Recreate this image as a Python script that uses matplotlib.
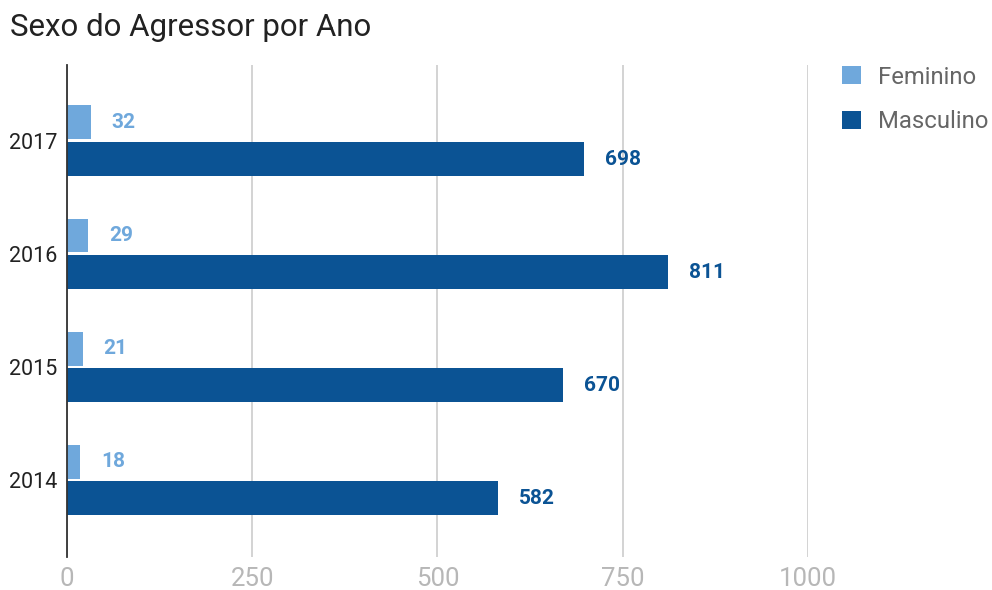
import matplotlib
matplotlib.use("Agg")
import matplotlib.pyplot as plt
import numpy as np

plt.rcParams["font.family"] = ["Roboto", "DejaVu Sans"]

years = ["2014", "2015", "2016", "2017"]
feminino = [18, 21, 29, 32]
masculino = [582, 670, 811, 698]
series_names = ["Feminino", "Masculino"]
colors = ["#6fa8dc", "#0b5394"]
xticks = [0, 250, 500, 750, 1000]

fig = plt.figure(figsize=(9.92, 5.9), dpi=100)
ax = fig.add_axes([0.0675, 0.056, 0.747, 0.834])

y = np.arange(len(years))
h = 0.30
off = 0.162
b1 = ax.barh(y + off, feminino, height=h, color=colors[0], label=series_names[0], zorder=3)
b2 = ax.barh(y - off, masculino, height=h, color=colors[1], label=series_names[1], zorder=3)

for bars, vals, c in [(b1, feminino, colors[0]), (b2, masculino, colors[1])]:
    for bar, v in zip(bars, vals):
        ax.annotate(str(v), (v, bar.get_y() + bar.get_height() / 2),
                    xytext=(15, 0), textcoords="offset points",
                    va="center", ha="left", fontsize=15, fontweight="bold", color=c)

ax.set_xlim(0, 1000)
ax.set_ylim(-0.68, 3.67)
ax.set_xticks(xticks)
ax.set_xticklabels([str(t) for t in xticks])
ax.set_yticks(y)
ax.set_yticklabels(years)
ax.tick_params(axis="x", length=0, labelsize=18.5, colors="#b7b7b7", pad=7)
ax.tick_params(axis="y", length=0, labelsize=15.5, labelcolor="#222222", pad=7)
ax.xaxis.grid(True, color="#cccccc", linewidth=1.2, zorder=0)
for s in ["top", "right", "bottom"]:
    ax.spines[s].set_visible(False)
ax.spines["left"].set_color("#333333")
ax.spines["left"].set_linewidth(1.3)
ax.spines["left"].set_zorder(4)

fig.text(0.01, 0.953, "Sexo do Agressor por Ano", fontsize=22.5, color="#222222",
         ha="left", va="center")

leg = fig.legend(handles=[b1, b2], loc="upper left", bbox_to_anchor=(0.839, 0.905),
                 frameon=False, fontsize=17.2, handlelength=0.8, handleheight=0.8,
                 handletextpad=0.7, labelspacing=0.9, borderaxespad=0)
for t in leg.get_texts():
    t.set_color("#666666")

fig.savefig("out.png", dpi=100)
